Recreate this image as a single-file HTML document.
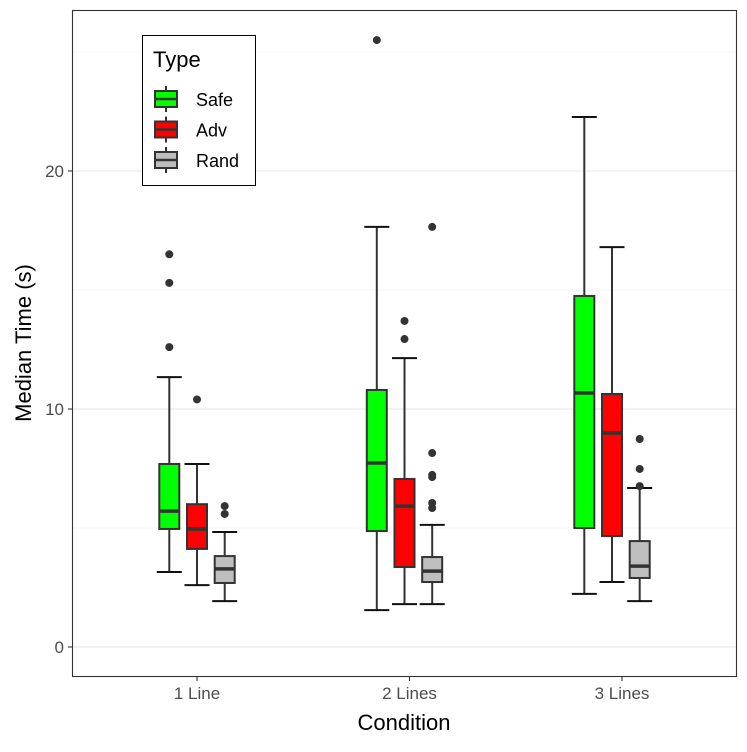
<!DOCTYPE html>
<html><head><meta charset="utf-8"><style>
body{margin:0;background:#fff;font-family:"Liberation Sans",sans-serif}
svg text{font-family:"Liberation Sans",sans-serif}
</style></head><body>
<svg id="chart" width="747" height="747" xmlns="http://www.w3.org/2000/svg">
<rect x="0" y="0" width="747" height="747" fill="#fff"/>
<g id="grid"></g>
<g id="boxes"></g>
<rect x="72.5" y="10.5" width="664" height="666" fill="none" stroke="#333" stroke-width="1.1"/>
<g id="axes"></g>
<text x="404" y="730" font-size="22" text-anchor="middle" fill="#000">Condition</text>
<text transform="translate(31,343) rotate(-90)" font-size="22" text-anchor="middle" fill="#000">Median Time (s)</text>
<g>
<rect x="142.5" y="35.5" width="113" height="150" fill="#fff" stroke="#000" stroke-width="1"/>
<text x="153" y="67" font-size="22" fill="#000">Type</text>
<g id="legend-items"></g>
</g>
</svg>
<script>
const categories = ["1 Line","2 Lines","3 Lines"];
const types = ["Safe","Adv","Rand"];
const colors = ["#00ff00","#ff0000","#bebebe"];
// [low, q1, median, q3, high] per category per type
const safeStats = [[3.15,4.96,5.71,7.69,11.34],[1.55,4.87,7.73,10.8,17.65],[2.23,5.0,10.67,14.75,22.27]];
const advStats  = [[2.6,4.12,4.96,6.0,7.69],[1.8,3.36,5.92,7.06,12.14],[2.73,4.66,8.99,10.63,16.8]];
const randStats = [[1.93,2.69,3.28,3.82,4.83],[1.8,2.73,3.19,3.78,5.13],[1.93,2.9,3.4,4.45,6.68]];
const safeOut = [[12.6,15.3,16.5],[25.5],[]];
const advOut  = [[10.4],[12.94,13.7],[]];
const randOut = [[5.59,5.92],[5.84,6.05,7.14,7.23,8.15,17.65],[6.76,7.48,8.74]];
const yTicks = [0,10,20];
const yMinor = [5,15,25];

const NS="http://www.w3.org/2000/svg";
function y(v){return 647 - v*23.8;}
function xCat(i){return 197 + i*212.5;}
function xBox(i){return 197 + i*207.5;}
function mk(tag,attrs,parent){const e=document.createElementNS(NS,tag);for(const k in attrs)e.setAttribute(k,attrs[k]);parent.appendChild(e);return e;}
const grid=document.getElementById('grid'),boxes=document.getElementById('boxes'),axes=document.getElementById('axes');
yMinor.forEach(v=>{const l=mk('line',{x1:73,x2:736,y1:y(v),y2:y(v),stroke:'#f0f0f0','stroke-width':0.7},grid);

});
yTicks.forEach(v=>{const l=mk('line',{x1:73,x2:736,y1:y(v),y2:y(v),stroke:'#ebebeb','stroke-width':1.3},grid);


const t=mk('line',{x1:68,x2:72,y1:y(v),y2:y(v),stroke:'#333','stroke-width':1.1},axes);


const tx=mk('text',{x:64,y:y(v)+6,'font-size':17,'text-anchor':'end',fill:'#4d4d4d'},axes);tx.textContent=v;

});
categories.forEach((c,i)=>{const l=mk('line',{x1:xCat(i),x2:xCat(i),y1:y(0)+30,y2:y(0)+34,stroke:'#333','stroke-width':1.1},axes);


const tx=mk('text',{x:xCat(i),y:699,'font-size':17,'text-anchor':'middle',fill:'#4d4d4d'},axes);tx.textContent=c;

});
const stats=[safeStats,advStats,randStats],outs=[safeOut,advOut,randOut];
const bw=20,dodge=27.7,cap=12.5;
categories.forEach((c,i)=>{types.forEach((t,j)=>{
 const s=stats[j][i],cx=xBox(i)+(j-1)*dodge;
 const g=mk('g',{},boxes);
 
 
 mk('line',{x1:cx,x2:cx,y1:y(s[0]),y2:y(s[1]),stroke:'#333','stroke-width':2},g);
 mk('line',{x1:cx,x2:cx,y1:y(s[3]),y2:y(s[4]),stroke:'#333','stroke-width':2},g);
 mk('line',{x1:cx-cap,x2:cx+cap,y1:y(s[0]),y2:y(s[0]),stroke:'#111','stroke-width':2},g);
 mk('line',{x1:cx-cap,x2:cx+cap,y1:y(s[4]),y2:y(s[4]),stroke:'#111','stroke-width':2},g);
 mk('rect',{x:cx-bw/2,y:y(s[3]),width:bw,height:y(s[1])-y(s[3]),fill:colors[j],stroke:'#333','stroke-width':2},g);
 mk('line',{x1:cx-bw/2,x2:cx+bw/2,y1:y(s[2]),y2:y(s[2]),stroke:'#333','stroke-width':3.5},g);
 outs[j][i].forEach(o=>{const p=mk('circle',{cx:cx,cy:y(o),r:4,fill:'#333'},g);
 
 });
});});
const li=document.getElementById('legend-items');
types.forEach((t,j)=>{const cy=99+j*30.5;
 const g=mk('g',{},li);
 
 
 mk('line',{x1:166,x2:166,y1:cy-13,y2:cy+13,stroke:'#333','stroke-width':2},g);
 mk('rect',{x:155,y:cy-8,width:22,height:16,fill:colors[j],stroke:'#333','stroke-width':2},g);
 mk('line',{x1:155,x2:177,y1:cy,y2:cy,stroke:'#333','stroke-width':2.5},g);
 const tx=mk('text',{x:196,y:cy+7,'font-size':18,fill:'#000'},g);tx.textContent=t;});
</script>
</body></html>
